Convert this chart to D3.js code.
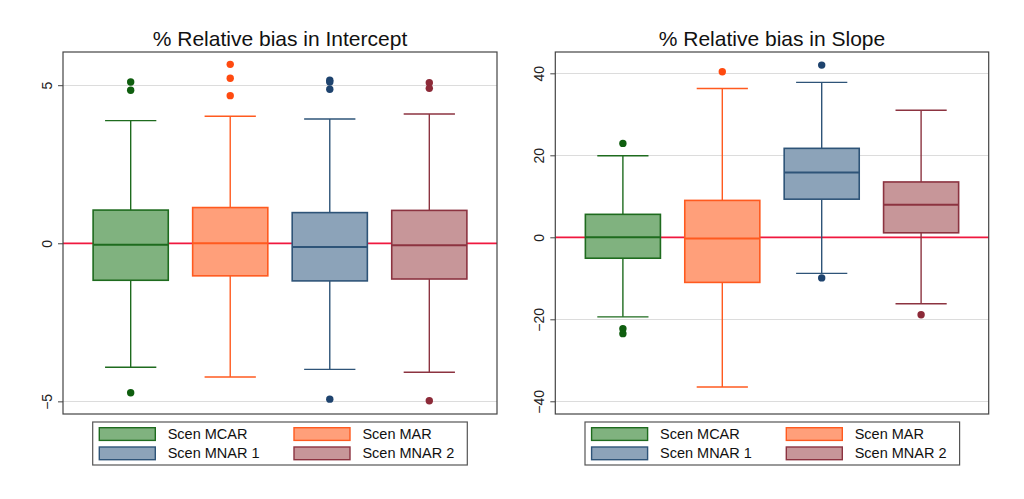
<!DOCTYPE html>
<html>
<head>
<meta charset="utf-8">
<script src="https://cdn.jsdelivr.net/npm/d3@7"></script>
<style>
  html, body { margin: 0; padding: 0; background: #ffffff; }
  svg { display: block; font-family: "Liberation Sans", Arial, Helvetica, sans-serif; }
</style>
</head>
<body>
<svg id="chart" width="1024" height="499"></svg>
<script>
// ---------------- DATA ----------------
const categories = ["Scen MCAR", "Scen MAR", "Scen MNAR 1", "Scen MNAR 2"];

// Intercept panel
const interceptLow     = [-3.92, -4.23, -3.99, -4.08];
const interceptQ1      = [-1.17, -1.03, -1.19, -1.13];
const interceptMedian  = [-0.05,  0.00, -0.12, -0.06];
const interceptQ3      = [ 1.05,  1.13,  0.97,  1.04];
const interceptHigh    = [ 3.88,  4.02,  3.93,  4.09];
const interceptOutliers = [[5.10, 4.84, -4.73], [5.66, 5.22, 4.67], [5.16, 5.10, 4.87, -4.93], [5.08, 4.90, -4.98]];
const interceptTicks   = [-5, 0, 5];

// Slope panel
const slopeLow     = [-19.4, -36.5, -8.8, -16.2];
const slopeQ1      = [ -5.1, -11.0,  9.3,   1.1];
const slopeMedian  = [  0.0,  -0.3, 15.8,   7.95];
const slopeQ3      = [  5.6,   9.0, 21.7,  13.5];
const slopeHigh    = [ 19.9,  36.3, 37.8,  31.0];
const slopeOutliers = [[22.9, -22.3, -23.5], [40.4], [42.0, -9.9], [-18.9]];
const slopeTicks   = [-40, -20, 0, 20, 40];

const panelTitles = ["% Relative bias in Intercept", "% Relative bias in Slope"];

// ---------------- STYLE ----------------
const fills   = ["#80b27f", "#ff9f7a", "#8ca3b9", "#c79699"];
const strokes = ["#1e6b1e", "#ff5a1f", "#2e5478", "#8c3340"];
const dots    = ["#0f5e0f", "#ff4a10", "#1e436e", "#8c2a38"];

const svg = d3.select("#chart");

function buildRows(low, q1, med, q3, high, outl) {
  return categories.map((c, i) => ({
    cat: c, low: low[i], q1: q1[i], med: med[i], q3: q3[i], high: high[i], out: outl[i], idx: i
  }));
}

const panels = [
  { title: panelTitles[0], rows: buildRows(interceptLow, interceptQ1, interceptMedian, interceptQ3, interceptHigh, interceptOutliers),
    ticks: interceptTicks, domain: [-5.4, 6.05], x0: 63, x1: 497 },
  { title: panelTitles[1], rows: buildRows(slopeLow, slopeQ1, slopeMedian, slopeQ3, slopeHigh, slopeOutliers),
    ticks: slopeTicks, domain: [-43.1, 45.2], x0: 555.3, x1: 988.7 }
];

const yTop = 52, yBot = 414;

panels.forEach(p => {
  const g = svg.append("g");
  const x = d3.scalePoint().domain(categories).range([p.x0, p.x1]).padding(0.68);
  const y = d3.scaleLinear().domain(p.domain).range([yBot, yTop]);
  const step = x.step();
  const bw = step * 0.755;
  const cw = step * 0.515;

  // gridlines
  g.selectAll("line.grid").data(p.ticks.filter(t => t !== 0)).join("line")
    .attr("x1", p.x0).attr("x2", p.x1)
    .attr("y1", d => Math.round(y(d)) + 0.5).attr("y2", d => Math.round(y(d)) + 0.5)
    .attr("stroke", "#dcdcdc").attr("stroke-width", 1);

  // zero reference line
  g.append("line")
    .attr("x1", p.x0).attr("x2", p.x1)
    .attr("y1", y(0)).attr("y2", y(0))
    .attr("stroke", "#f0183f").attr("stroke-width", 1.7);

  const box = g.selectAll("g.box").data(p.rows).join("g");

  // whiskers
  box.append("line")
    .attr("x1", d => x(d.cat)).attr("x2", d => x(d.cat))
    .attr("y1", d => y(d.high)).attr("y2", d => y(d.q3))
    .attr("stroke", d => strokes[d.idx]).attr("stroke-width", 1.4);
  box.append("line")
    .attr("x1", d => x(d.cat)).attr("x2", d => x(d.cat))
    .attr("y1", d => y(d.q1)).attr("y2", d => y(d.low))
    .attr("stroke", d => strokes[d.idx]).attr("stroke-width", 1.4);
  // caps
  box.append("line")
    .attr("x1", d => x(d.cat) - cw / 2).attr("x2", d => x(d.cat) + cw / 2)
    .attr("y1", d => y(d.high)).attr("y2", d => y(d.high))
    .attr("stroke", d => strokes[d.idx]).attr("stroke-width", 1.4);
  box.append("line")
    .attr("x1", d => x(d.cat) - cw / 2).attr("x2", d => x(d.cat) + cw / 2)
    .attr("y1", d => y(d.low)).attr("y2", d => y(d.low))
    .attr("stroke", d => strokes[d.idx]).attr("stroke-width", 1.4);
  // box
  box.append("rect")
    .attr("x", d => x(d.cat) - bw / 2).attr("width", bw)
    .attr("y", d => y(d.q3)).attr("height", d => y(d.q1) - y(d.q3))
    .attr("fill", d => fills[d.idx]).attr("stroke", d => strokes[d.idx]).attr("stroke-width", 1.6);
  // median
  box.append("line")
    .attr("x1", d => x(d.cat) - bw / 2).attr("x2", d => x(d.cat) + bw / 2)
    .attr("y1", d => y(d.med)).attr("y2", d => y(d.med))
    .attr("stroke", d => strokes[d.idx]).attr("stroke-width", 2);
  // outliers
  box.each(function (d) {
    d3.select(this).selectAll("circle").data(d.out).join("circle")
      .attr("cx", x(d.cat)).attr("cy", v => y(v)).attr("r", 3.7)
      .attr("fill", dots[d.idx]);
  });

  // frame
  g.append("rect")
    .attr("x", p.x0).attr("y", yTop).attr("width", p.x1 - p.x0).attr("height", yBot - yTop)
    .attr("fill", "none").attr("stroke", "#444").attr("stroke-width", 1.2);

  // y axis
  const axis = d3.axisLeft(y).tickValues(p.ticks).tickSize(5).tickPadding(6).tickFormat(d3.format("d"));
  const ag = g.append("g").attr("transform", `translate(${p.x0},0)`).call(axis);
  ag.select(".domain").remove();
  ag.selectAll(".tick line").attr("stroke", "#444");
  ag.selectAll(".tick text")
    .attr("x", null).attr("dy", null)
    .attr("text-anchor", "middle")
    .attr("transform", "translate(-11,0) rotate(-90)")
    .attr("fill", "#222").style("font-size", "14px")
    .style("font-family", "'Liberation Sans', Arial, sans-serif");

  // title
  g.append("text")
    .attr("x", (p.x0 + p.x1) / 2).attr("y", 46)
    .attr("text-anchor", "middle")
    .attr("fill", "#111").style("font-size", "21px")
    .text(p.title);

  // legend
  const lx = p.x0 + 29.7, ly = 422, lw = 374.6, lh = 43;
  const lg = g.append("g");
  lg.append("rect").attr("x", lx).attr("y", ly).attr("width", lw).attr("height", lh)
    .attr("fill", "#fff").attr("stroke", "#555").attr("stroke-width", 1.2);
  const items = lg.selectAll("g.item").data(categories).join("g")
    .attr("transform", (d, i) => `translate(${lx + 6.6 + (i % 2) * 194.7},${ly + 5.7 + Math.floor(i / 2) * 19.3})`);
  items.append("rect").attr("width", 56).attr("height", 12.7)
    .attr("fill", (d, i) => fills[i]).attr("stroke", (d, i) => strokes[i]).attr("stroke-width", 1.4);
  items.append("text").attr("x", 68.4).attr("y", 11.3)
    .attr("fill", "#111").style("font-size", "14.5px").text(d => d);
});
</script>
</body>
</html>
